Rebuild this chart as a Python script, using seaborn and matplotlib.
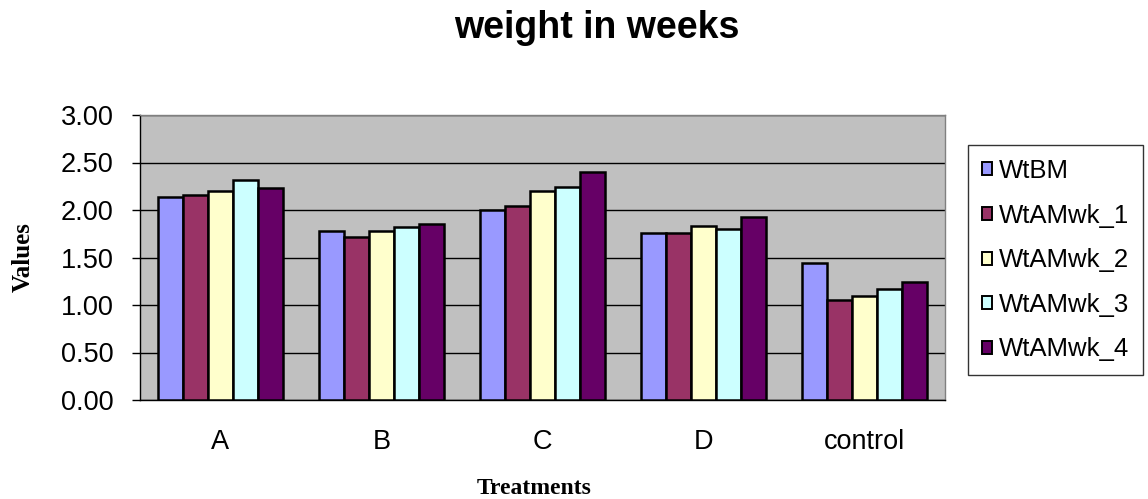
import matplotlib
matplotlib.use("Agg")
import matplotlib.pyplot as plt
import seaborn as sns
import pandas as pd
from matplotlib.patches import Patch

categories = ["A", "B", "C", "D", "control"]
series_names = ["WtBM", "WtAMwk_1", "WtAMwk_2", "WtAMwk_3", "WtAMwk_4"]
WtBM = [2.14, 1.78, 2.00, 1.76, 1.44]
WtAMwk_1 = [2.16, 1.72, 2.04, 1.76, 1.05]
WtAMwk_2 = [2.20, 1.78, 2.20, 1.83, 1.10]
WtAMwk_3 = [2.32, 1.82, 2.24, 1.80, 1.17]
WtAMwk_4 = [2.23, 1.85, 2.40, 1.93, 1.24]
colors = ["#9999FF", "#993366", "#FFFFCC", "#CCFFFF", "#660066"]
yticks = [0.0, 0.5, 1.0, 1.5, 2.0, 2.5, 3.0]

rows = []
for name, vals in zip(series_names, [WtBM, WtAMwk_1, WtAMwk_2, WtAMwk_3, WtAMwk_4]):
    for c, v in zip(categories, vals):
        rows.append({"Treatments": c, "series": name, "Values": v})
df = pd.DataFrame(rows)

sns.set_style("white")
plt.rcParams["font.family"] = ["Liberation Sans", "DejaVu Sans"]
plt.rcParams["text.color"] = "black"
plt.rcParams["axes.labelcolor"] = "black"
plt.rcParams["xtick.color"] = "black"
plt.rcParams["ytick.color"] = "black"

fig = plt.figure(figsize=(11.48, 4.99), dpi=100)
ax = fig.add_axes([140/1148, 1-400/499, 805/1148, 285/499])
ax.set_facecolor("#C0C0C0")

sns.barplot(data=df, x="Treatments", y="Values", hue="series",
            hue_order=series_names, order=categories, palette=colors,
            width=0.78, gap=0, edgecolor="black", linewidth=1.8,
            saturation=1, legend=False, ax=ax, zorder=3)

ax.set_ylim(0, 3.0)
ax.set_xlim(-0.5, 4.5)
ax.set_yticks(yticks)
ax.set_yticklabels([f"{t:.2f}" for t in yticks], fontsize=19.5)
ax.yaxis.grid(True, color="black", linewidth=1.0, zorder=0)
ax.set_axisbelow(True)

ax.set_xticks(range(len(categories)))
ax.set_xticklabels(categories, fontsize=19.5)
ax.tick_params(axis="x", length=0, pad=21)
ax.set_xticks([i - 0.5 for i in range(len(categories) + 1)], minor=True)
ax.tick_params(axis="x", which="minor", length=6, width=1, direction="out", color="black")
ax.tick_params(axis="y", length=6, width=1, direction="out", color="black", left=True, pad=13)

for s in ["left", "bottom"]:
    ax.spines[s].set_color("black")
    ax.spines[s].set_linewidth(1.0)
for s in ["top", "right"]:
    ax.spines[s].set_color("#808080")
    ax.spines[s].set_linewidth(1.0)

ax.set_xlabel("Treatments", fontsize=17, fontweight="bold",
              family=["Liberation Serif", "DejaVu Serif"])
ax.set_ylabel("Values", fontsize=18, fontweight="bold",
              family=["Liberation Serif", "DejaVu Serif"])
ax.xaxis.set_label_coords(0.49, -0.275)
ax.yaxis.set_label_coords(-0.131, 0.5)

fig.suptitle("weight in weeks", x=597/1148, y=0.98, fontsize=27, fontweight="bold")

handles = [Patch(facecolor=c, edgecolor="black", linewidth=1.4) for c in colors]
leg = fig.legend(handles, series_names, loc="upper left",
                 bbox_to_anchor=(968/1148, 1-145/499), fontsize=18.5,
                 frameon=True, fancybox=False, edgecolor="black",
                 handlelength=0.4, handleheight=0.4, handletextpad=0.25,
                 labelspacing=0.8, borderpad=0.55, borderaxespad=0)
leg.get_frame().set_linewidth(1.0)

fig.savefig("out.png", dpi=100)
